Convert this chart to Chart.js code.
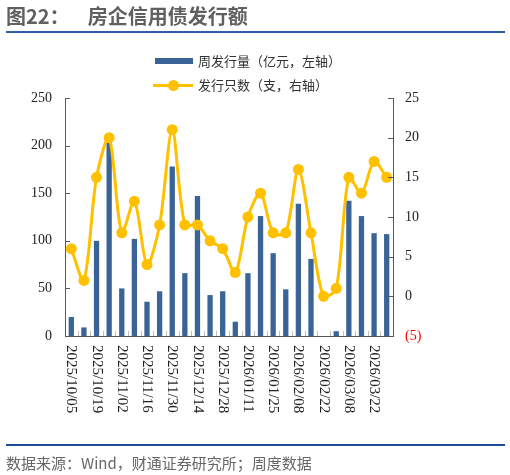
<!DOCTYPE html>
<html><head><meta charset="utf-8">
<script src="https://cdn.jsdelivr.net/npm/chart.js@4"></script>
<style>
body{margin:0;width:510px;height:475px;background:#fff;position:relative;overflow:hidden;font-family:"Noto Sans CJK SC",sans-serif;}
#title{position:absolute;left:6px;top:2px;font-size:20px;font-weight:bold;color:#606060;white-space:pre;line-height:28px;}
#topline{position:absolute;left:6px;top:31px;width:499px;height:2px;background:#2f5fa8;}
#botline{position:absolute;left:6px;top:444px;width:499px;height:2px;background:#1f4e99;}
#source{position:absolute;left:6px;top:452px;font-size:15px;color:#666;white-space:pre;line-height:22px;}
#cv{position:absolute;left:0;top:0;}
.leg{position:absolute;left:153px;font-size:13px;color:#333;line-height:18px;white-space:pre;}
.leg .sym{display:inline-block;position:relative;width:40px;height:18px;vertical-align:top;margin-right:5px;}
</style></head><body>
<canvas id="cv" width="510" height="475"></canvas>
<div id="title">图22：    房企信用债发行额</div>
<div id="topline"></div>
<div class="leg" style="top:52px"><span class="sym"><span style="position:absolute;left:2px;top:6px;width:38px;height:6px;background:#3a6497"></span></span>周发行量（亿元，左轴）</div>
<div class="leg" style="top:76px"><span class="sym"><span style="position:absolute;left:0;top:8px;width:40px;height:3px;background:#ffc000"></span><span style="position:absolute;left:15px;top:4px;width:11px;height:11px;border-radius:50%;background:#ffc000"></span></span>发行只数（支，右轴）</div>
<div id="botline"></div>
<div id="source">数据来源：Wind，财通证券研究所；周度数据</div>
<script>
const categories = ["2025/10/05","2025/10/12","2025/10/19","2025/10/26","2025/11/02","2025/11/09","2025/11/16","2025/11/23","2025/11/30","2025/12/07","2025/12/14","2025/12/21","2025/12/28","2026/01/04","2026/01/11","2026/01/18","2026/01/25","2026/02/01","2026/02/08","2026/02/15","2026/02/22","2026/03/01","2026/03/08","2026/03/15","2026/03/22","2026/03/29"];
const weeklyAmount = [20,9,100,205,50,102,36,47,178,66,147,43,47,15,66,126,87,49,139,81,0,5,142,126,108,107];
const issueCount = [6,2,15,20,8,12,4,9,21,9,9,7,6,3,10,13,8,8,16,8,0,1,15,13,17,15];
const leftTicks = [0,50,100,150,200,250];
const rightTicks = [-5,0,5,10,15,20,25];

const xFont = '15px "Liberation Serif", "Times New Roman", serif';

const deco = {
  id:'deco',
  afterDraw(chart){
    const ctx = chart.ctx, a = chart.chartArea;
    const x = chart.scales.x, yl = chart.scales.yL, yr = chart.scales.yR;
    ctx.save();
    ctx.strokeStyle = '#bfbfbf'; ctx.lineWidth = 1;
    for(let i=0;i<categories.length-1;i++){
      const px = Math.round((x.getPixelForValue(i)+x.getPixelForValue(i+1))/2)+0.5;
      ctx.beginPath(); ctx.moveTo(px,a.bottom); ctx.lineTo(px,a.bottom-5); ctx.stroke();
    }
    ctx.strokeStyle = '#595959';
    leftTicks.forEach(v=>{const py=Math.round(yl.getPixelForValue(v))+0.5;ctx.beginPath();ctx.moveTo(a.left,py);ctx.lineTo(a.left+5,py);ctx.stroke();});
    rightTicks.forEach(v=>{const py=Math.round(yr.getPixelForValue(v))+0.5;ctx.beginPath();ctx.moveTo(a.right,py);ctx.lineTo(a.right-5,py);ctx.stroke();});
    ctx.fillStyle = '#222'; ctx.font = xFont; ctx.textAlign='left'; ctx.textBaseline='middle';
    categories.forEach((c,i)=>{
      if(i%2!==0) return;
      ctx.save();
      ctx.translate(x.getPixelForValue(i), a.bottom+9);
      ctx.rotate(Math.PI/2);
      ctx.fillText(c,0,0);
      ctx.restore();
    });
    ctx.restore();
  }
};

new Chart(document.getElementById('cv'),{
  data:{
    labels:categories,
    datasets:[
      {type:'line',label:'发行只数（支，右轴）',data:issueCount,yAxisID:'yR',borderColor:'#ffc000',backgroundColor:'#ffc000',borderWidth:3,pointRadius:5.5,pointHoverRadius:5.5,pointBackgroundColor:'#ffc000',pointBorderWidth:0,tension:0.3,order:1},
      {type:'bar',label:'周发行量（亿元，左轴）',data:weeklyAmount,yAxisID:'yL',backgroundColor:'#3a6497',categoryPercentage:1,barPercentage:0.42,order:2}
    ]
  },
  options:{
    responsive:false,animation:false,devicePixelRatio:1,
    layout:{padding:{top:98,left:0,right:0,bottom:0}},
    plugins:{legend:{display:false},tooltip:{enabled:false}},
    scales:{
      x:{offset:true,grid:{display:false,drawTicks:false},border:{display:true,color:'#595959'},ticks:{display:false},
         afterFit(s){s.height=475-336;}},
      yL:{position:'left',min:0,max:250,afterBuildTicks(s){s.ticks=leftTicks.map(v=>({value:v}));},
          grid:{display:false,drawTicks:false},border:{display:true,color:'#595959'},
          ticks:{padding:13,color:'#222',font:{family:'"Liberation Serif", serif',size:14}},
          afterFit(s){s.width=65;}},
      yR:{position:'right',min:-5,max:25,afterBuildTicks(s){s.ticks=rightTicks.map(v=>({value:v}));},
          grid:{display:false,drawTicks:false},border:{display:true,color:'#595959'},
          ticks:{padding:12,font:{family:'"Liberation Serif", serif',size:14},
                 color:(c)=>c.tick && c.tick.value<0?'#ff0000':'#222',
                 callback:(v)=>v<0?'('+(-v)+')':String(v)},
          afterFit(s){s.width=510-393;}}
    }
  },
  plugins:[deco]
});
</script>
</body></html>
